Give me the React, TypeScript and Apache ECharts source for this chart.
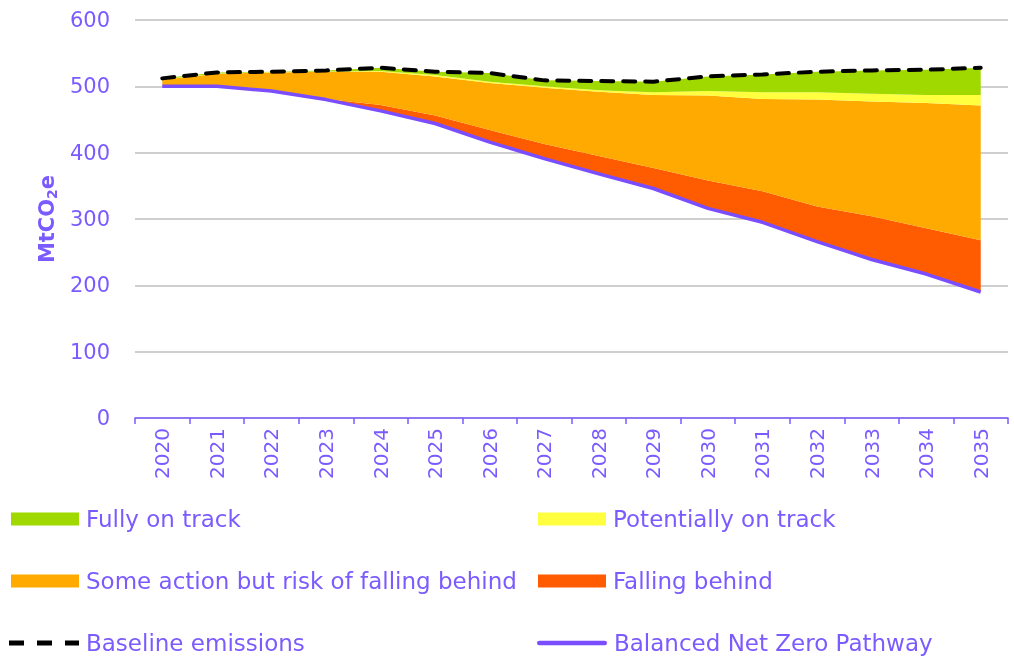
import React, { useEffect, useRef } from "react";
import * as echarts from "echarts";

const years = ["2020","2021","2022","2023","2024","2025","2026","2027","2028","2029","2030","2031","2032","2033","2034","2035"];
// Balanced Net Zero Pathway (MtCO2e)
const pathway = [500, 500, 493, 480, 463, 444, 416, 391, 368, 346, 316, 295, 266, 239, 217, 190];
// Stacked band thicknesses above the pathway
const fallingBehind = [0, 0, 0.5, 1, 9, 12, 18, 22, 27, 31, 42, 47, 53, 65, 69, 78];
const someAction = [10, 19, 27.5, 41, 50, 59, 71, 85, 97, 110, 128, 139, 161, 173, 189, 203];
const potentially = [0.5, 0.5, 0.5, 0.5, 1, 2, 2, 2, 2, 4, 7, 10, 11, 12, 12, 16];
const fullyOnTrack = [1.5, 1.5, 0.5, 1.5, 5, 5, 13, 9, 14, 16, 22, 27, 31, 35, 38, 41];
// Baseline emissions
const baseline = [512, 521, 522, 524, 528, 522, 520, 509, 508, 507, 515, 518, 522, 524, 525, 528];
const yTicks = { min: 0, max: 600, interval: 100 };

const TEXT = "#7B5BFF";
const FONT = "DejaVu Sans";
const PURPLE = "#7A4DFF";

const DASH_ICON = "path://M0,0H15V5H0Z M28,0H43V5H28Z M56,0H70V5H56Z";
const LINE_ICON = "path://M2.25,0H67.75A2.25,2.25 0 0 1 67.75,4.5H2.25A2.25,2.25 0 0 1 2.25,0Z";

export default function App() {
  const ref = useRef<HTMLDivElement>(null);
  useEffect(() => {
    if (!ref.current) return;
    const chart = echarts.init(ref.current, null, { renderer: "svg" });
    const area = (name: string, data: number[], color: string) => ({
      name,
      type: "line",
      stack: "s",
      data,
      symbol: "none",
      lineStyle: { width: 0, opacity: 0 },
      areaStyle: { color, opacity: 1 },
      itemStyle: { color },
      z: 2,
    });
    const leg = (name: string, left: number, top: number, w: number, h: number, icon: string) => ({
      left,
      top,
      padding: 0,
      orient: "horizontal",
      itemWidth: w,
      itemHeight: h,
      symbolKeepAspect: false,
      textStyle: { fontSize: 23, color: TEXT, lineHeight: 26, fontFamily: FONT, padding: [0, 0, 0, 2] },
      data: [{ name, icon }],
    });
    chart.setOption({
      animation: false,
      textStyle: { fontFamily: FONT },
      grid: { left: 135, right: 6, top: 20, bottom: 239, containLabel: false },
      xAxis: {
        type: "category",
        data: years,
        boundaryGap: true,
        axisLine: { lineStyle: { color: TEXT, width: 1.5 } },
        axisTick: { show: true, length: 6, lineStyle: { color: TEXT, width: 1.5 } },
        axisLabel: { rotate: 90, fontSize: 20, color: TEXT, margin: 10, fontFamily: FONT },
      },
      yAxis: {
        type: "value",
        min: yTicks.min,
        max: yTicks.max,
        interval: yTicks.interval,
        axisLine: { show: false },
        axisTick: { show: false },
        axisLabel: { fontSize: 21, color: TEXT, margin: 25, fontFamily: FONT },
        splitLine: { lineStyle: { color: "#BFBFBF", width: 1.5 } },
        name: "{a|MtCO}{b|2}{a|e}",
        nameLocation: "middle",
        nameGap: 68,
        nameRotate: 90,
        nameTextStyle: {
          rich: {
            a: { fontSize: 21, fontWeight: "bold", color: TEXT, fontFamily: FONT },
            b: { fontSize: 14, fontWeight: "bold", color: TEXT, fontFamily: FONT, padding: [10, 0, 0, 0] },
          },
        },
      },
      legend: [
        leg("Fully on track", 11, 506, 68, 13, "rect"),
        leg("Some action but risk of falling behind", 11, 568, 68, 13, "rect"),
        leg("Baseline emissions", 9, 630, 70, 5, DASH_ICON),
        leg("Potentially on track", 538, 506, 68, 13, "rect"),
        leg("Falling behind", 538, 568, 68, 13, "rect"),
        leg("Balanced Net Zero Pathway", 537, 630, 70, 4.5, LINE_ICON),
      ],
      series: [
        {
          name: "base",
          type: "line",
          stack: "s",
          data: pathway,
          symbol: "none",
          lineStyle: { width: 0, opacity: 0 },
          areaStyle: { opacity: 0 },
          silent: true,
        },
        area("Falling behind", fallingBehind, "#FF5B00"),
        area("Some action but risk of falling behind", someAction, "#FFAA00"),
        area("Potentially on track", potentially, "#FFFF40"),
        area("Fully on track", fullyOnTrack, "#A0D900"),
        {
          name: "Baseline emissions",
          type: "line",
          data: baseline,
          symbol: "none",
          lineStyle: { color: "#000000", width: 4, type: [12, 10], cap: "round" },
          itemStyle: { color: "#000000" },
          z: 4,
        },
        {
          name: "Balanced Net Zero Pathway",
          type: "line",
          data: pathway,
          symbol: "none",
          lineStyle: { color: PURPLE, width: 3.5 },
          itemStyle: { color: PURPLE },
          z: 5,
        },
      ],
    });
    return () => chart.dispose();
  }, []);
  return <div ref={ref} style={{ position: "fixed", left: 0, top: 0, width: 1014, height: 657 }} />;
}
